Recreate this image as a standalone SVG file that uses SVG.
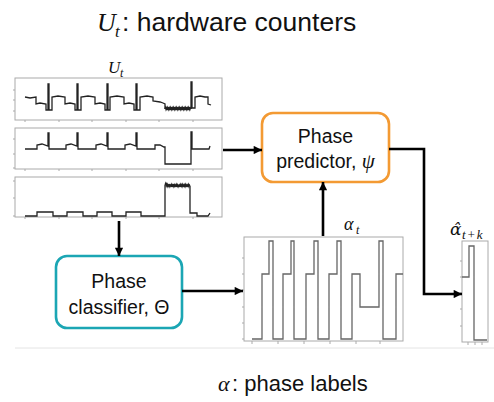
<svg xmlns="http://www.w3.org/2000/svg" width="494" height="402" viewBox="0 0 494 402">
<style>
.frame{fill:#fff;stroke:#aaa;stroke-width:1}
.tick{stroke:#aaa;stroke-width:1}
.sig{fill:none;stroke:#222;stroke-width:1.3;stroke-linejoin:miter}
.noise{fill:none;stroke:#222;stroke-width:1.2}
.lab{fill:none;stroke:#666;stroke-width:1.3}
.conn{fill:none;stroke:#000;stroke-width:2.6}
.t{font-family:"Liberation Sans",Arial,sans-serif;fill:#111}
.m{font-family:"Liberation Serif","DejaVu Serif",serif;font-style:italic;fill:#111}
</style>
<defs>
<marker id="ah" viewBox="0 0 10 10" refX="10" refY="5" markerWidth="3.4" markerHeight="3.2" orient="auto" markerUnits="strokeWidth">
<path d="M0,0 L10,5 L0,10 z" fill="#000"/>
</marker>
</defs>
<rect width="494" height="402" fill="#fff"/>
<line x1="15" y1="348" x2="494" y2="348" stroke="#e4e4e4" stroke-width="1"/>

<g id="title">
<text class="m" x="97" y="31" font-size="26">U</text>
<text class="m" x="115" y="37" font-size="17">t</text>
<text class="t" x="122" y="31" font-size="26.5">: hardware counters</text>
</g>

<g id="counters">
<text class="m" x="108" y="73" font-size="17">U</text>
<text class="m" x="120" y="77" font-size="12">t</text>
<rect class="frame" x="15" y="78" width="207" height="42"/>
<rect class="frame" x="15" y="128" width="207" height="41"/>
<rect class="frame" x="15" y="177" width="207" height="40"/>
<path class="tick" d="M15,90h-2M15,100h-2M15,111h-2M15,139h-2M15,154h-2M15,168h-2M15,181h-2M15,198h-2M15,216h-2"/>
<path class="tick" d="M25,120v2M59,120v2M92,120v2M126,120v2M159,120v2M193,120v2M25,169v2M59,169v2M92,169v2M126,169v2M159,169v2M193,169v2M25,217v2M59,217v2M92,217v2M126,217v2M159,217v2M193,217v2"/>
<path class="sig" d="M25,97 L30,98 L36,97 L36,104 L40,103 L46,104 L46,110 L48,110 L48,84 L49,84 L49,110 L52,110 L52,97 L58,96 L65,97 L65,104 L70,103 L75,104 L75,110 L77,110 L77,84 L78,84 L78,110 L81,110 L81,97 L88,96 L95,97 L95,104 L100,103 L105,104 L105,110 L107,110 L107,84 L108,84 L108,110 L110,110 L110,97 L117,96 L124,97 L124,104 L129,103 L134,104 L134,110 L136,110 L136,84 L137,84 L137,110 L140,110 L140,97 L147,96 L153,97 L153,101 L160,102 L163,103 L165,104 L165,109"/>
<polyline class="noise" points="165,109 165.5,107.5 166,109.5 166.5,108 167,110 167.5,107.5 168,109 168.5,107 169,109.5 169.5,108 170,110 170.5,107.5 171,109 171.5,107 172,109.5 172.5,108 173,110 173.5,107.5 174,109 174.5,107 175,109.5 175.5,108 176,110 176.5,107.5 177,109 177.5,107 178,109.5 178.5,108 179,110 179.5,107.5 180,109 180.5,107 181,109.5 181.5,108 182,110 182.5,107.5 183,109 183.5,107 184,109.5 184.5,108 185,110 185.5,107.5 186,109 186.5,107 187,109.5 187.5,108 188,110 188.5,107.5 189,109 189.5,107 190,109.5 190.5,108 191,109"/>
<path class="sig" d="M191,109 L191,82 L192,82 L192,108 L195,108 L195,97 L200,96 L205,97 L208,97 L208,104 L211,105"/>
<path class="sig" d="M25,149 L37,149 L37,145 L42,144 L48,146 L48,133 L49,133 L49,149 L66,149 L66,145 L71,144 L77,146 L77,133 L78,133 L78,149 L96,149 L96,145 L101,144 L107,146 L107,133 L108,133 L108,149 L125,149 L125,145 L130,144 L136,146 L136,133 L137,133 L137,149 L155,149 L155,145 L160,145 L164,147 L165,147 L165,164 L191,164 L191,132 L192,132 L192,149 L209,149 L210,146"/>
<path class="sig" d="M25,216 L37,216 L37,212 L53,212 L53,216 L67,216 L67,212 L83,212 L83,216 L97,216 L97,212 L112,212 L112,216 L126,216 L126,212 L141,212 L141,216 L165,216 L165,185"/>
<polyline class="noise" points="165,185 165.5,183.5 166,185.5 166.5,184 167,186 167.5,184.5 168,186.5 168.5,185 169,186 169.5,184 170,186.5 170.5,185 171,186 171.5,184.5 172,187 172.5,185 173,186 173.5,184 174,186.5 174.5,185 175,187 175.5,185 176,186 176.5,184.5 177,187 177.5,185 178,186.5 178.5,184.5 179,187 179.5,185 180,186 180.5,184.5 181,187 181.5,185 182,186.5 182.5,184.5 183,186 183.5,185 184,187 184.5,185 185,186.5 185.5,184.5 186,186 186.5,185 187,187 187.5,185 188,186 188.5,184.5 189,186.5 189.5,185 190,186"/>
<path class="sig" d="M190,186 L190,213 L197,213 L197,216 L208,216 L210,213"/>
</g>

<g id="classifier">
<rect x="56" y="256" width="126" height="72" rx="11" fill="#fff" stroke="#1BA6B4" stroke-width="2.6"/>
<text class="t" x="119" y="288" font-size="19.5" text-anchor="middle">Phase</text>
<text class="t" x="119" y="314" font-size="19.5" text-anchor="middle">classifier, Θ</text>
</g>

<g id="predictor">
<rect x="262" y="113" width="127" height="69" rx="11" fill="#fff" stroke="#F39A33" stroke-width="2.6"/>
<text class="t" x="325.5" y="143" font-size="19.5" text-anchor="middle">Phase</text>
<text class="t" x="325.5" y="168" font-size="19.5" text-anchor="middle">predictor, <tspan font-family="Liberation Serif,DejaVu Serif,serif" font-style="italic" font-size="21">ψ</tspan></text>
</g>

<g id="labels">
<text class="m" x="344" y="230" font-size="18">α</text>
<text class="m" x="356" y="234" font-size="12">t</text>
<rect class="frame" x="244" y="237" width="159" height="104"/>
<path class="tick" d="M244,258h-2M244,274h-2M244,290h-2M244,307h-2M244,323h-2M244,339h-2M252,341v3M278,341v3M304,341v3M330,341v3M356,341v3M380,341v3"/>
<path class="lab" d="M252,339 H262 V274 H269 V241 H273 V339 H283 V274 H291 V241 H294 V339 H306 V274 H314 V241 H318 V339 H329 V274 H337 V241 H341 V339 H352 V274 H360 V307 H379 V241 H383 V339 H396 V274 H403"/>
</g>

<g id="prediction">
<text x="450" y="235" font-size="17" font-family="DejaVu Serif,serif" font-style="italic" fill="#111">α̂</text>
<text class="m" x="462" y="239" font-size="13" letter-spacing="1.2">t+k</text>
<rect class="frame" x="462" y="241" width="26" height="101"/>
<path class="tick" d="M462,261h-2M462,277h-2M462,293h-2M462,309h-2M462,326h-2M468,342v3M475,342v3M482,342v3"/>
<path class="lab" d="M462,277 H469 V246 H474 V340 H487"/>
</g>

<g id="connectors">
<path class="conn" d="M223,150 H262" marker-end="url(#ah)"/>
<path class="conn" d="M119,221 V256" marker-end="url(#ah)"/>
<path class="conn" d="M182,291 H243" marker-end="url(#ah)"/>
<path class="conn" d="M323,236 V182" marker-end="url(#ah)"/>
<path class="conn" d="M389,149 H424 V294 H462" marker-end="url(#ah)"/>
</g>

<g id="footer">
<text class="m" x="218" y="391" font-size="22">α</text>
<text class="t" x="232" y="391" font-size="22">: phase labels</text>
</g>
</svg>
